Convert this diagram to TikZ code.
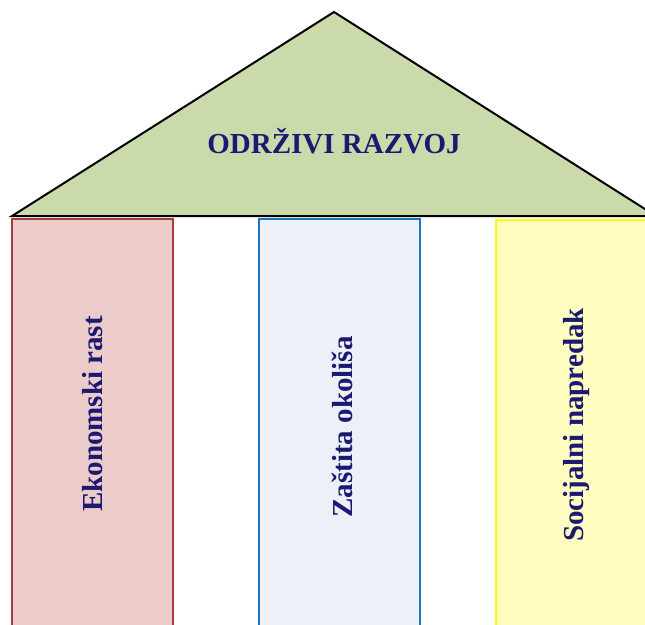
\documentclass[tikz,border=0pt]{standalone}
\usepackage{fontspec}
\setmainfont{Liberation Serif}
\definecolor{roofgreen}{HTML}{CBDAAA}
\definecolor{redfill}{HTML}{ECCCCB}
\definecolor{redline}{HTML}{A3403C}
\definecolor{bluefill}{HTML}{EDF0F6}
\definecolor{blueline}{HTML}{1B75C2}
\definecolor{yelfill}{HTML}{FFFDC0}
\definecolor{yelline}{HTML}{FFFF00}
\definecolor{navy}{HTML}{1C1A70}
\begin{document}
\begin{tikzpicture}[x=1pt,y=-1pt,
  label text/.style={font=\fontsize{29}{34}\selectfont\bfseries, text=navy, inner sep=0pt},
  pillar/.style={line width=2pt}]
\useasboundingbox (0,0) rectangle (645,624);
\clip (0,0) rectangle (645,624);
\fill[white] (0,0) rectangle (645,624);
% pillars
\draw[pillar, draw=redline, fill=redfill] (12,219) rectangle (173,640);
\draw[pillar, draw=blueline, fill=bluefill] (259,219) rectangle (420,640);
\draw[pillar, draw=yelline, fill=yelfill] (496,220) rectangle (660,640);
% roof
\draw[line width=2pt, fill=roofgreen, line join=miter] (12,216) -- (334,12) -- (656,216) -- cycle;
% texts
\node[label text] (roof) at (334,141) {ODRŽIVI RAZVOJ};
\node[label text, rotate=90] (eko) at (93,414) {Ekonomski rast};
\node[label text, rotate=90] (zas) at (342,427) {Zaštita okoliša};
\node[label text, rotate=90] (soc) at (577,425) {Socijalni napredak};
\end{tikzpicture}
\end{document}
